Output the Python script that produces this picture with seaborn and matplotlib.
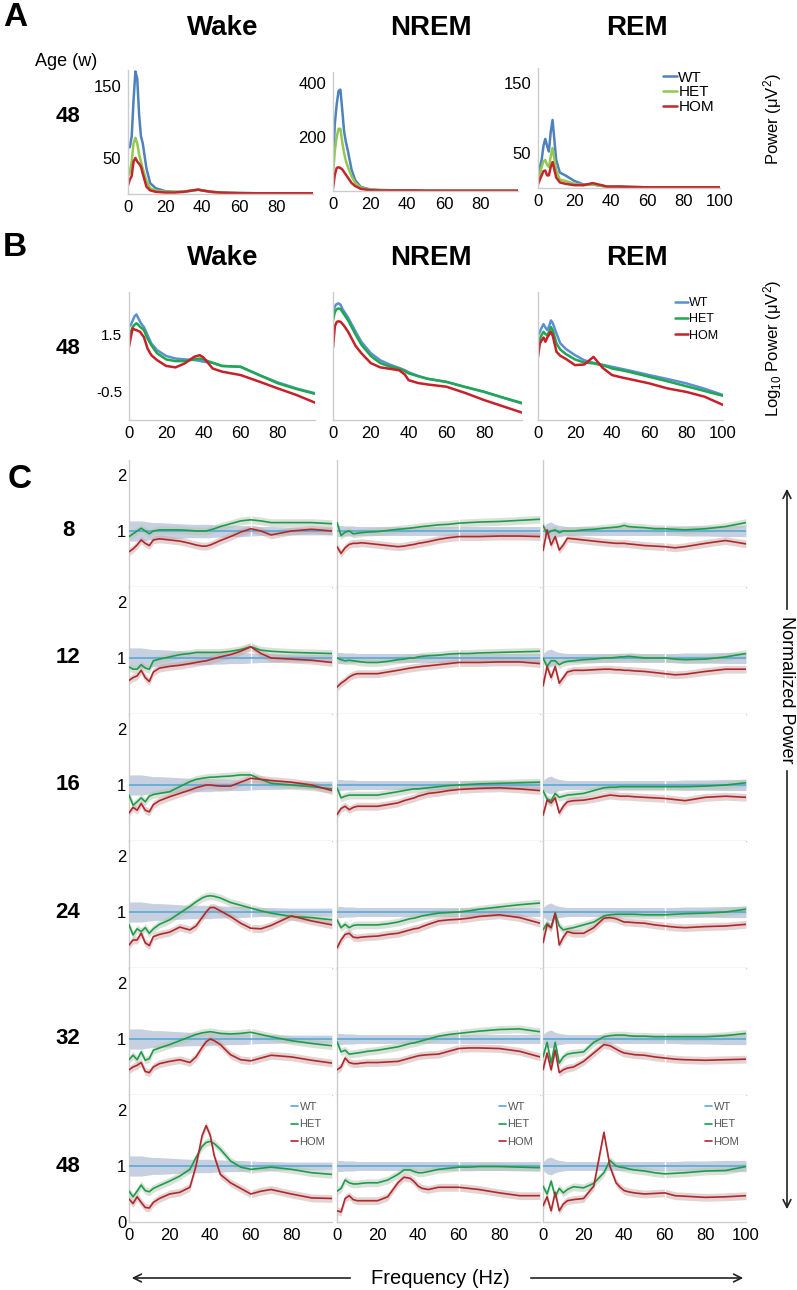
import matplotlib
matplotlib.use("Agg")
import matplotlib.pyplot as plt
import seaborn as sns
import numpy as np

# ---------------- data ----------------
STATES = ["Wake", "NREM", "REM"]
GENOS = ["WT", "HET", "HOM"]

# panels A and B: frequency grid (Hz)
SPEC_HZ = [0, 1, 2, 3, 4, 5, 6, 7, 8, 10, 12, 15, 20, 25, 30, 35, 38, 40, 45, 50, 60, 70, 80, 90, 100]

# A: absolute power (uV^2), age 48 w
A_WAKE_WT = [64, 65, 80, 130, 170, 160, 110, 80, 70, 35, 15, 8, 4, 3, 3, 5, 6, 5, 3, 2, 1.5, 1, 1, 0.5, 0.5]
A_WAKE_HET = [25, 30, 45, 70, 78, 70, 55, 45, 35, 18, 8, 5, 3, 3, 3, 5, 6, 5, 3, 2, 1.5, 1, 1, 1, 1]
A_WAKE_HOM = [12, 20, 25, 45, 50, 45, 42, 38, 28, 10, 5, 3, 2, 2, 3, 5, 6, 5, 3, 2, 1, 1, 1, 1, 1]
A_NREM_WT = [100, 250, 320, 370, 375, 300, 220, 180, 150, 80, 40, 15, 6, 4, 3, 2, 2, 2, 2, 1.5, 1, 1, 1, 1, 1]
A_NREM_HET = [60, 150, 200, 230, 230, 180, 140, 110, 90, 55, 30, 12, 5, 3, 2, 2, 2, 2, 2, 1.5, 1, 1, 1, 1, 1]
A_NREM_HOM = [10, 60, 85, 88, 85, 80, 70, 60, 50, 30, 18, 8, 3, 2, 2, 2, 2, 2, 2, 1, 1, 1, 1, 1, 1]
A_REM_WT = [15, 30, 40, 60, 70, 60, 52, 80, 97, 40, 22, 18, 10, 5, 5, 3, 2, 2, 2, 1.5, 1, 1, 1, 1, 1]
A_REM_HET = [10, 20, 30, 38, 40, 33, 30, 45, 57, 25, 12, 10, 6, 4, 5, 3, 2, 2, 2, 1.5, 1, 1, 1, 1, 1]
A_REM_HOM = [5, 12, 18, 24, 25, 18, 18, 30, 37, 15, 8, 6, 4, 4, 7, 4, 2, 2, 2, 1.5, 1, 1, 1, 1, 1]

# B: log10 power, age 48 w
B_WAKE_WT = [1.77, 1.85, 2.0, 2.15, 2.21, 2.08, 1.95, 1.85, 1.77, 1.48, 1.19, 0.96, 0.75, 0.66, 0.63, 0.61, 0.58, 0.55, 0.51, 0.4, 0.37, 0.08, -0.18, -0.39, -0.56]
B_WAKE_HET = [1.48, 1.6, 1.77, 1.85, 1.9, 1.85, 1.77, 1.72, 1.66, 1.36, 1.13, 0.85, 0.63, 0.57, 0.57, 0.63, 0.66, 0.63, 0.51, 0.4, 0.37, 0.08, -0.21, -0.41, -0.58]
B_WAKE_HOM = [1.07, 1.42, 1.72, 1.68, 1.66, 1.63, 1.6, 1.5, 1.42, 1.01, 0.78, 0.61, 0.4, 0.35, 0.49, 0.72, 0.78, 0.7, 0.31, 0.2, 0.08, -0.15, -0.39, -0.62, -0.89]
B_NREM_WT = [2.25, 2.5, 2.58, 2.6, 2.55, 2.4, 2.3, 2.2, 2.1, 1.85, 1.6, 1.25, 0.85, 0.6, 0.45, 0.33, 0.25, 0.18, 0.05, -0.05, -0.16, -0.34, -0.51, -0.72, -0.92]
B_NREM_HET = [2.0, 2.3, 2.4, 2.42, 2.4, 2.3, 2.2, 2.1, 2.0, 1.75, 1.5, 1.15, 0.75, 0.5, 0.38, 0.31, 0.22, 0.14, 0.04, -0.05, -0.16, -0.34, -0.51, -0.71, -0.9]
B_NREM_HOM = [1.05, 1.8, 1.95, 1.97, 1.95, 1.88, 1.8, 1.7, 1.6, 1.35, 1.1, 0.85, 0.5, 0.35, 0.3, 0.25, 0.1, -0.1, -0.2, -0.25, -0.33, -0.55, -0.8, -1.02, -1.24]
B_REM_WT = [1.48, 1.6, 1.75, 1.87, 1.75, 1.66, 1.8, 2.0, 1.9, 1.54, 1.2, 1.0, 0.78, 0.6, 0.51, 0.44, 0.4, 0.37, 0.3, 0.23, 0.08, -0.06, -0.21, -0.4, -0.62]
B_REM_HET = [1.13, 1.35, 1.5, 1.6, 1.52, 1.48, 1.6, 1.77, 1.65, 1.19, 0.98, 0.82, 0.63, 0.52, 0.49, 0.42, 0.36, 0.31, 0.25, 0.18, 0.02, -0.14, -0.31, -0.48, -0.65]
B_REM_HOM = [0.72, 1.19, 1.3, 1.4, 1.25, 1.4, 1.5, 1.6, 1.45, 0.9, 0.76, 0.65, 0.43, 0.45, 0.72, 0.33, 0.18, 0.08, 0.0, -0.07, -0.21, -0.39, -0.51, -0.68, -0.97]

# C: power normalised to WT, per age (weeks)
AGES = [8, 12, 16, 24, 32, 48]
NORM_HZ = [0, 2, 4, 6, 8, 10, 12, 15, 20, 25, 30, 33, 36, 38, 40, 42, 45, 50, 55, 60, 65, 70, 80, 90, 100]

WAKE_HET = [
    [0.90, 0.95, 1.00, 1.05, 1.00, 0.95, 1.00, 1.02, 1.02, 1.02, 1.01, 1.00, 1.00, 1.00, 1.02, 1.04, 1.08, 1.13, 1.18, 1.20, 1.18, 1.15, 1.15, 1.15, 1.13],
    [0.84, 0.80, 0.80, 0.88, 0.82, 0.80, 0.95, 0.98, 1.02, 1.06, 1.08, 1.10, 1.10, 1.10, 1.10, 1.10, 1.10, 1.12, 1.15, 1.20, 1.14, 1.12, 1.10, 1.09, 1.08],
    [0.82, 0.64, 0.70, 0.77, 0.70, 0.80, 0.83, 0.85, 0.88, 0.97, 1.06, 1.10, 1.12, 1.13, 1.14, 1.14, 1.15, 1.16, 1.18, 1.18, 1.10, 1.03, 1.00, 0.97, 0.93],
    [0.77, 0.59, 0.70, 0.65, 0.72, 0.62, 0.70, 0.78, 0.86, 0.98, 1.10, 1.18, 1.25, 1.28, 1.29, 1.28, 1.25, 1.17, 1.12, 1.07, 1.02, 0.98, 0.92, 0.90, 0.86],
    [0.63, 0.71, 0.63, 0.77, 0.62, 0.65, 0.80, 0.84, 0.90, 0.97, 1.04, 1.08, 1.11, 1.12, 1.13, 1.12, 1.10, 1.09, 1.10, 1.12, 1.08, 1.04, 0.97, 0.92, 0.88],
    [0.55, 0.45, 0.55, 0.66, 0.56, 0.54, 0.60, 0.65, 0.73, 0.82, 0.94, 1.15, 1.35, 1.42, 1.44, 1.40, 1.30, 1.09, 0.98, 0.94, 0.96, 0.98, 0.94, 0.88, 0.85],
]
WAKE_HOM = [
    [0.63, 0.68, 0.75, 0.84, 0.78, 0.74, 0.84, 0.86, 0.84, 0.82, 0.78, 0.75, 0.73, 0.73, 0.75, 0.78, 0.83, 0.90, 0.98, 1.04, 1.00, 0.93, 1.00, 1.03, 1.00],
    [0.60, 0.65, 0.68, 0.78, 0.65, 0.58, 0.75, 0.82, 0.85, 0.87, 0.90, 0.92, 0.94, 0.95, 0.97, 0.99, 1.02, 1.06, 1.12, 1.20, 1.08, 1.00, 0.98, 0.96, 0.92],
    [0.50, 0.60, 0.55, 0.67, 0.55, 0.52, 0.65, 0.72, 0.79, 0.85, 0.91, 0.95, 0.98, 1.00, 1.00, 0.99, 0.98, 0.98, 1.05, 1.12, 1.10, 1.08, 1.05, 1.00, 0.90],
    [0.41, 0.50, 0.50, 0.62, 0.45, 0.40, 0.56, 0.60, 0.64, 0.73, 0.68, 0.75, 0.90, 1.00, 1.08, 1.08, 1.02, 0.92, 0.80, 0.71, 0.70, 0.76, 0.93, 0.84, 0.77],
    [0.45, 0.50, 0.53, 0.58, 0.42, 0.40, 0.50, 0.56, 0.60, 0.63, 0.58, 0.68, 0.85, 0.95, 1.00, 0.97, 0.90, 0.72, 0.63, 0.61, 0.66, 0.71, 0.68, 0.62, 0.57],
    [0.41, 0.33, 0.45, 0.35, 0.26, 0.25, 0.35, 0.42, 0.50, 0.53, 0.62, 1.00, 1.54, 1.72, 1.55, 1.18, 0.85, 0.70, 0.60, 0.50, 0.55, 0.58, 0.50, 0.43, 0.42],
]
NREM_HET = [
    [1.15, 0.92, 0.98, 1.00, 0.95, 0.96, 0.97, 0.98, 0.99, 1.01, 1.03, 1.04, 1.05, 1.06, 1.07, 1.08, 1.09, 1.11, 1.12, 1.14, 1.15, 1.16, 1.17, 1.19, 1.21],
    [1.00, 0.97, 0.95, 0.96, 0.95, 0.94, 0.93, 0.92, 0.92, 0.94, 0.97, 0.98, 1.00, 1.00, 1.02, 1.03, 1.04, 1.05, 1.07, 1.08, 1.08, 1.09, 1.10, 1.11, 1.12],
    [0.95, 0.77, 0.80, 0.82, 0.82, 0.82, 0.82, 0.82, 0.82, 0.85, 0.88, 0.90, 0.92, 0.93, 0.93, 0.94, 0.95, 0.97, 0.99, 1.00, 1.01, 1.02, 1.03, 1.04, 1.05],
    [0.86, 0.72, 0.78, 0.72, 0.76, 0.77, 0.77, 0.77, 0.77, 0.79, 0.82, 0.85, 0.88, 0.89, 0.91, 0.93, 0.95, 0.98, 0.99, 1.00, 1.02, 1.05, 1.09, 1.13, 1.16],
    [0.95, 0.77, 0.80, 0.73, 0.74, 0.75, 0.76, 0.78, 0.80, 0.83, 0.86, 0.89, 0.92, 0.93, 0.95, 0.97, 1.00, 1.05, 1.08, 1.10, 1.12, 1.14, 1.17, 1.18, 1.13],
    [0.55, 0.60, 0.75, 0.70, 0.68, 0.68, 0.69, 0.70, 0.70, 0.75, 0.85, 0.93, 0.93, 0.90, 0.88, 0.88, 0.90, 0.94, 0.96, 0.98, 0.98, 0.99, 0.99, 0.98, 0.97],
]
NREM_HOM = [
    [0.72, 0.60, 0.70, 0.76, 0.78, 0.78, 0.79, 0.78, 0.76, 0.74, 0.72, 0.73, 0.75, 0.76, 0.78, 0.79, 0.81, 0.85, 0.88, 0.90, 0.90, 0.90, 0.91, 0.91, 0.90],
    [0.48, 0.55, 0.60, 0.66, 0.70, 0.72, 0.72, 0.72, 0.72, 0.75, 0.78, 0.80, 0.82, 0.83, 0.84, 0.85, 0.86, 0.88, 0.90, 0.92, 0.92, 0.92, 0.93, 0.93, 0.90],
    [0.47, 0.58, 0.62, 0.56, 0.60, 0.62, 0.62, 0.62, 0.62, 0.65, 0.68, 0.72, 0.75, 0.77, 0.80, 0.82, 0.85, 0.87, 0.90, 0.92, 0.93, 0.94, 0.95, 0.93, 0.90],
    [0.36, 0.50, 0.60, 0.62, 0.55, 0.54, 0.55, 0.56, 0.57, 0.60, 0.62, 0.65, 0.68, 0.70, 0.71, 0.74, 0.78, 0.84, 0.86, 0.87, 0.89, 0.92, 0.95, 0.90, 0.80],
    [0.45, 0.50, 0.66, 0.58, 0.56, 0.56, 0.57, 0.58, 0.58, 0.59, 0.60, 0.63, 0.66, 0.68, 0.70, 0.71, 0.72, 0.73, 0.78, 0.83, 0.84, 0.84, 0.83, 0.78, 0.68],
    [0.20, 0.18, 0.42, 0.47, 0.40, 0.38, 0.38, 0.38, 0.38, 0.45, 0.70, 0.80, 0.78, 0.72, 0.64, 0.60, 0.58, 0.62, 0.62, 0.62, 0.60, 0.58, 0.52, 0.47, 0.47],
]
REM_HET = [
    [1.10, 0.95, 1.00, 1.02, 0.97, 1.00, 1.00, 1.00, 1.02, 1.03, 1.05, 1.06, 1.07, 1.08, 1.10, 1.08, 1.07, 1.06, 1.04, 1.04, 1.03, 1.02, 1.04, 1.08, 1.15],
    [1.00, 0.85, 0.95, 0.95, 0.88, 0.92, 0.94, 0.95, 0.97, 0.98, 1.00, 1.00, 1.01, 1.02, 1.02, 1.03, 1.02, 1.00, 1.00, 1.00, 0.98, 0.97, 0.98, 1.02, 1.08],
    [0.90, 0.75, 0.72, 0.85, 0.78, 0.80, 0.82, 0.83, 0.85, 0.90, 0.95, 0.96, 0.96, 0.97, 0.97, 0.97, 0.97, 0.97, 0.97, 0.97, 0.97, 0.97, 0.98, 1.00, 1.04],
    [0.68, 0.80, 0.72, 0.98, 0.75, 0.68, 0.70, 0.72, 0.77, 0.82, 0.93, 0.95, 0.96, 0.96, 0.96, 0.96, 0.96, 0.95, 0.95, 0.95, 0.96, 0.97, 0.98, 1.00, 1.05],
    [0.68, 0.94, 0.57, 0.94, 0.57, 0.68, 0.73, 0.75, 0.77, 0.94, 1.04, 1.06, 1.07, 1.07, 1.07, 1.06, 1.05, 1.05, 1.04, 1.04, 1.04, 1.04, 1.04, 1.06, 1.10],
    [0.64, 0.50, 0.73, 0.45, 0.60, 0.52, 0.58, 0.63, 0.61, 0.69, 0.88, 1.10, 1.00, 0.98, 0.97, 0.95, 0.93, 0.91, 0.88, 0.86, 0.87, 0.88, 0.91, 0.92, 0.99],
]
REM_HOM = [
    [0.65, 1.02, 0.75, 0.90, 0.66, 0.75, 0.87, 0.86, 0.84, 0.82, 0.80, 0.79, 0.78, 0.78, 0.78, 0.77, 0.76, 0.74, 0.73, 0.72, 0.70, 0.72, 0.78, 0.83, 0.77],
    [0.50, 0.85, 0.65, 0.85, 0.55, 0.65, 0.75, 0.78, 0.78, 0.79, 0.80, 0.80, 0.79, 0.79, 0.78, 0.78, 0.77, 0.76, 0.74, 0.72, 0.70, 0.71, 0.76, 0.80, 0.80],
    [0.46, 0.73, 0.68, 0.77, 0.50, 0.62, 0.70, 0.72, 0.73, 0.76, 0.80, 0.82, 0.81, 0.80, 0.80, 0.80, 0.79, 0.78, 0.77, 0.76, 0.74, 0.72, 0.78, 0.80, 0.78],
    [0.45, 0.77, 0.72, 0.98, 0.41, 0.55, 0.65, 0.62, 0.62, 0.72, 0.89, 0.90, 0.88, 0.85, 0.82, 0.82, 0.81, 0.80, 0.77, 0.75, 0.73, 0.72, 0.74, 0.75, 0.78],
    [0.45, 0.75, 0.45, 0.80, 0.40, 0.45, 0.48, 0.50, 0.60, 0.75, 0.90, 0.88, 0.82, 0.78, 0.75, 0.74, 0.72, 0.71, 0.68, 0.66, 0.64, 0.63, 0.62, 0.63, 0.64],
    [0.29, 0.45, 0.20, 0.53, 0.20, 0.32, 0.38, 0.40, 0.42, 0.64, 1.60, 0.99, 0.70, 0.62, 0.56, 0.54, 0.52, 0.50, 0.51, 0.52, 0.47, 0.46, 0.44, 0.45, 0.47],
]
# spread of the WT reference (shared over ages), and of the mutant curves
WT_SEM_WAKE = [0.18, 0.18, 0.18, 0.18, 0.17, 0.16, 0.15, 0.15, 0.14, 0.13, 0.12, 0.12, 0.12, 0.12, 0.12, 0.11, 0.11, 0.10, 0.10, 0.09, 0.08, 0.08, 0.07, 0.07, 0.07]
WT_SEM_NREM = [0.10, 0.10, 0.09, 0.09, 0.09, 0.08, 0.08, 0.08, 0.08, 0.08, 0.08, 0.08, 0.08, 0.08, 0.08, 0.08, 0.08, 0.08, 0.08, 0.08, 0.08, 0.08, 0.08, 0.08, 0.08]
WT_SEM_REM = [0.08, 0.14, 0.16, 0.12, 0.10, 0.09, 0.08, 0.08, 0.08, 0.08, 0.08, 0.08, 0.08, 0.08, 0.08, 0.08, 0.08, 0.08, 0.08, 0.08, 0.08, 0.09, 0.09, 0.10, 0.10]
MUT_SEM = 0.07

# ---------------- style ----------------
sns.set_style("white")
plt.rcParams['font.family'] = ['Liberation Sans', 'DejaVu Sans']
plt.rcParams['mathtext.fontset'] = 'custom'
plt.rcParams['mathtext.rm'] = 'Liberation Sans'
plt.rcParams['mathtext.default'] = 'regular'
plt.rcParams['text.color'] = 'black'
plt.rcParams['xtick.color'] = 'black'
plt.rcParams['ytick.color'] = 'black'

COL_A = {"WT": "#4f81bd", "HET": "#92c84f", "HOM": "#c0282d"}
COL_B = {"WT": "#5b8fd4", "HET": "#1fa84f", "HOM": "#c8202a"}
COL_C = {"WT": "#5aa9d6", "HET": "#1a9e4b", "HOM": "#b0282c"}
BAND_C = {"WT": "#8fa3c2", "HET": "#b9c4b4", "HOM": "#c9a8a8"}
SPINE = "#cccccc"

W, H = 797, 1290
fig = plt.figure(figsize=(W / 100, H / 100), dpi=100)


def add_ax(left, top, width, height):
    return fig.add_axes([left / W, 1 - (top + height) / H, width / W, height / H])


def ftext(x, y, s, **kw):
    fig.text(x / W, 1 - y / H, s, **kw)


def style_ax(ax, ylen=3):
    sns.despine(ax=ax)
    for s in ["left", "bottom"]:
        ax.spines[s].set_color(SPINE)
        ax.spines[s].set_linewidth(1)
    ax.tick_params(axis="x", length=0, labelsize=11, pad=4, colors="black")
    ax.tick_params(axis="y", length=ylen, color=SPINE, labelsize=12, pad=2, labelcolor="black")
    ax.set_xlabel("")
    ax.set_ylabel("")


# ---------------- panel A ----------------
a_data = {"Wake": [A_WAKE_WT, A_WAKE_HET, A_WAKE_HOM],
          "NREM": [A_NREM_WT, A_NREM_HET, A_NREM_HOM],
          "REM": [A_REM_WT, A_REM_HET, A_REM_HOM]}
a_box = {"Wake": (128, 70, 185, 124, 172), "NREM": (333, 72, 185, 119, 440), "REM": (538, 68, 182, 120, 171)}
a_yt = {"Wake": ([50, 100, 150], ["50", "", "150"]), "NREM": ([200, 400], ["200", "400"]),
        "REM": ([50, 100, 150], ["50", "", "150"])}
for st in STATES:
    l, t, w, h, ymax = a_box[st]
    ax = add_ax(l, t, w, h)
    for g, vals in zip(GENOS, a_data[st]):
        sns.lineplot(x=SPEC_HZ, y=vals, ax=ax, color=COL_A[g], lw=1.8, label=g)
    ax.set_xlim(0, 100)
    ax.set_ylim(0, ymax)
    ax.set_yticks(a_yt[st][0], a_yt[st][1])
    ax.set_xticks([0, 20, 40, 60, 80, 100] if st == "REM" else [0, 20, 40, 60, 80])
    style_ax(ax)
    ax.tick_params(axis="x", labelsize=12)
    if st == "REM":
        ax.legend(loc="upper right", frameon=False, fontsize=11, handlelength=0.9,
                  handletextpad=0.1, labelspacing=0.05, borderaxespad=0.0,
                  bbox_to_anchor=(1.0, 1.03))
    else:
        ax.get_legend().remove()

# ---------------- panel B ----------------
b_data = {"Wake": [B_WAKE_WT, B_WAKE_HET, B_WAKE_HOM],
          "NREM": [B_NREM_WT, B_NREM_HET, B_NREM_HOM],
          "REM": [B_REM_WT, B_REM_HET, B_REM_HOM]}
b_box = {"Wake": (129, 186), "NREM": (333, 189), "REM": (538, 185)}
for st in STATES:
    l, w = b_box[st]
    ax = add_ax(l, 292, w, 128)
    for g, vals in zip(GENOS, b_data[st]):
        sns.lineplot(x=SPEC_HZ, y=vals, ax=ax, color=COL_B[g], lw=1.8, label=g)
    ax.set_xlim(0, 100)
    ax.set_ylim(-1.5, 3.0)
    labs = ["", "-0.5", "", "1.5", ""] if st == "Wake" else [""] * 5
    ax.set_yticks([-1.5, -0.5, 0.5, 1.5, 2.5], labs)
    ax.set_xticks([0, 20, 40, 60, 80, 100] if st == "REM" else [0, 20, 40, 60, 80])
    style_ax(ax)
    ax.tick_params(axis="x", labelsize=12)
    ax.tick_params(axis="y", labelsize=11)
    if st == "REM":
        ax.legend(loc="upper right", frameon=False, fontsize=9, handlelength=1.0,
                  handletextpad=0.1, labelspacing=0.35, borderaxespad=0.0,
                  bbox_to_anchor=(1.0, 1.0))
    else:
        ax.get_legend().remove()

# ---------------- panel C ----------------
c_het = {"Wake": WAKE_HET, "NREM": NREM_HET, "REM": REM_HET}
c_hom = {"Wake": WAKE_HOM, "NREM": NREM_HOM, "REM": REM_HOM}
c_sem = {"Wake": WT_SEM_WAKE, "NREM": WT_SEM_NREM, "REM": WT_SEM_REM}
c_left = {"Wake": 129, "NREM": 337, "REM": 543}
hz = np.array(NORM_HZ)
for r, age in enumerate(AGES):
    bottom = 587 + 127 * r
    for st in STATES:
        ax = add_ax(c_left[st], bottom - 127, 203, 127)
        wt = np.ones(len(NORM_HZ))
        sem = np.array(c_sem[st])
        het = np.array(c_het[st][r])
        hom = np.array(c_hom[st][r])
        ax.fill_between(hz, wt - sem, wt + sem, color=BAND_C["WT"], alpha=0.5, lw=0, zorder=1)
        ax.fill_between(hz, het - MUT_SEM, het + MUT_SEM, color=BAND_C["HET"], alpha=0.5, lw=0, zorder=1)
        ax.fill_between(hz, hom - MUT_SEM, hom + MUT_SEM, color=BAND_C["HOM"], alpha=0.5, lw=0, zorder=1)
        ax.axvline(60, color="white", lw=1, zorder=2)
        sns.lineplot(x=NORM_HZ, y=wt, ax=ax, color=COL_C["WT"], lw=1.2, label="WT", zorder=3)
        sns.lineplot(x=NORM_HZ, y=het, ax=ax, color=COL_C["HET"], lw=1.2, label="HET", zorder=3)
        sns.lineplot(x=NORM_HZ, y=hom, ax=ax, color=COL_C["HOM"], lw=1.2, label="HOM", zorder=3)
        ax.set_xlim(0, 100)
        ax.set_ylim(0, 127 / 56)
        style_ax(ax)
        ax.tick_params(axis="both", direction="in", length=3, color=SPINE)
        last = r == len(AGES) - 1
        ax.set_xticks([0, 20, 40, 60, 80, 100])
        if last:
            xl = ["0", "20", "40", "60", "80", "100"] if st == "REM" else ["0", "20", "40", "60", "80", ""]
        else:
            xl = [""] * 6
        ax.set_xticklabels(xl)
        ax.tick_params(axis="x", labelsize=12, pad=4)
        ax.set_yticks([0, 1, 2])
        if st == "Wake":
            ax.set_yticklabels(["0" if last else "", "1", "2"])
        else:
            ax.set_yticklabels(["", "", ""])
        if last:
            ax.legend(loc="upper right", frameon=False, fontsize=8, handlelength=0.7,
                      handletextpad=0.1, labelspacing=0.7, borderaxespad=0.2,
                      labelcolor="#555555")
        else:
            ax.get_legend().remove()
    ftext(68, bottom - 56, str(age), fontsize=16, fontweight="bold", ha="center", va="center")

# ---------------- labels ----------------
ftext(15, 17, "A", fontsize=24, fontweight="bold", ha="center", va="center")
ftext(15, 247, "B", fontsize=24, fontweight="bold", ha="center", va="center")
ftext(20, 480, "C", fontsize=24, fontweight="bold", ha="center", va="center")
for st, x in zip(STATES, [223, 431, 637]):
    ftext(x, 28, st, fontsize=20, fontweight="bold", ha="center", va="center")
    ftext(x, 258, st, fontsize=20, fontweight="bold", ha="center", va="center")
ftext(66, 62, "Age (w)", fontsize=13, ha="center", va="center")
ftext(68, 117, "48", fontsize=16, fontweight="bold", ha="center", va="center")
ftext(68, 348, "48", fontsize=16, fontweight="bold", ha="center", va="center")
ftext(773, 119, "Power (μV$^2$)", fontsize=12, rotation=90, ha="center", va="center")
ftext(773, 348, "Log$_{10}$ Power (μV$^2$)", fontsize=12, rotation=90, ha="center", va="center")

# normalized power arrows
ftext(787, 690, "Normalized Power", fontsize=13, rotation=270, ha="center", va="center")
arrow = dict(arrowstyle="->", color="#222222", lw=1.2, mutation_scale=14)
fig.add_artist(matplotlib.patches.FancyArrowPatch((787 / W, 1 - 612 / H), (787 / W, 1 - 486 / H),
                                                  transform=fig.transFigure, **arrow))
fig.add_artist(matplotlib.patches.FancyArrowPatch((787 / W, 1 - 768 / H), (787 / W, 1 - 1212 / H),
                                                  transform=fig.transFigure, **arrow))
# frequency arrows
ftext(440, 1278, "Frequency (Hz)", fontsize=14.5, ha="center", va="center")
fig.add_artist(matplotlib.patches.FancyArrowPatch((353 / W, 1 - 1278 / H), (129 / W, 1 - 1278 / H),
                                                  transform=fig.transFigure, **arrow))
fig.add_artist(matplotlib.patches.FancyArrowPatch((528 / W, 1 - 1278 / H), (746 / W, 1 - 1278 / H),
                                                  transform=fig.transFigure, **arrow))

fig.savefig("out.png", dpi=100)
